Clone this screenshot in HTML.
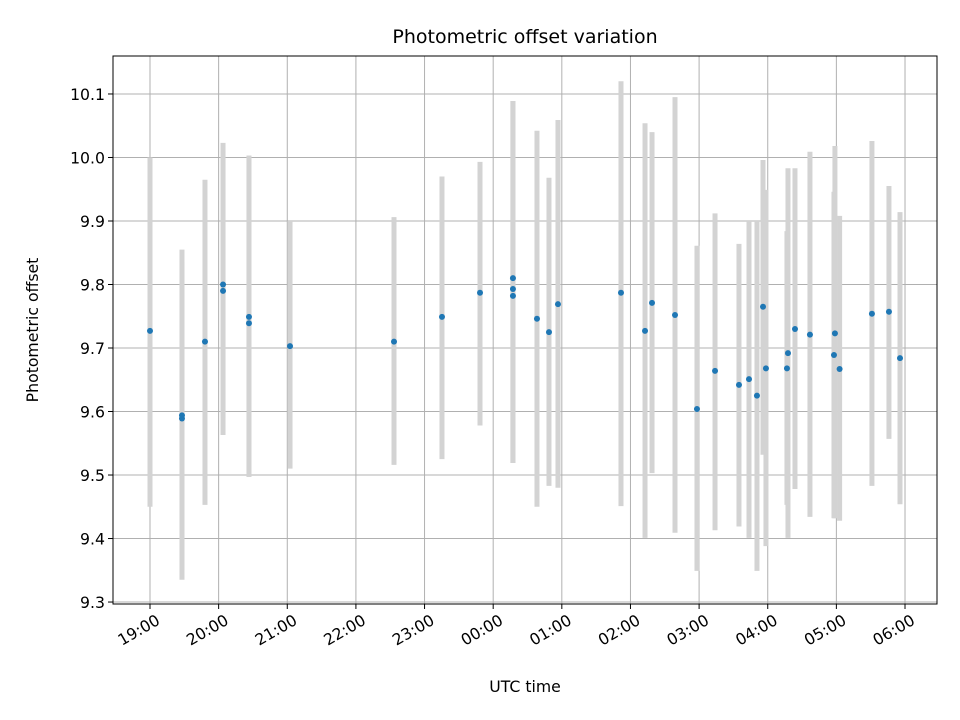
<!DOCTYPE html>
<html><head><meta charset="utf-8"><style>
body{margin:0;background:#fff;}
svg{display:block;font-family:"DejaVu Sans","Liberation Sans",sans-serif;}
</style></head><body>
<svg id="chart" width="960" height="720">
<text x="525" y="43" text-anchor="middle" font-size="19">Photometric offset variation</text>
<text x="525" y="692" text-anchor="middle" font-size="15.7">UTC time</text>
<text transform="translate(38,330) rotate(-90)" text-anchor="middle" font-size="15.7">Photometric offset</text>
<g id="grid"></g><g id="bars"></g><g id="pts"></g><g id="axes"></g>
</svg>
<script>
// hours after 19:00 UTC
const times=[0.0,0.466,0.466,0.801,1.064,1.064,1.442,1.442,2.040,3.555,4.254,4.808,5.288,5.288,5.288,5.638,5.813,5.944,6.862,7.212,7.314,7.649,7.969,8.232,8.581,8.727,8.843,8.931,8.974,9.280,9.295,9.397,9.615,9.979,9.965,10.047,10.518,10.766,10.927];
const values=[9.727,9.594,9.589,9.710,9.800,9.790,9.749,9.739,9.703,9.710,9.749,9.787,9.810,9.793,9.782,9.746,9.725,9.769,9.787,9.727,9.771,9.752,9.604,9.664,9.642,9.651,9.625,9.765,9.668,9.668,9.692,9.730,9.721,9.723,9.689,9.667,9.754,9.757,9.684];
const upper=[10.0,9.855,9.835,9.965,10.023,10.01,10.003,10.003,9.9,9.906,9.97,9.993,10.089,10.089,10.089,10.042,9.968,10.059,10.12,10.054,10.04,10.095,9.861,9.912,9.864,9.9,9.9,9.996,9.949,9.884,9.983,9.983,10.009,10.018,9.946,9.908,10.026,9.955,9.914];
const lower=[9.45,9.335,9.35,9.453,9.563,9.59,9.497,9.497,9.51,9.516,9.525,9.578,9.519,9.519,9.519,9.45,9.483,9.48,9.451,9.401,9.503,9.409,9.349,9.413,9.419,9.401,9.349,9.532,9.388,9.453,9.401,9.478,9.434,9.432,9.432,9.428,9.483,9.557,9.454];
const xTickLabels=["19:00","20:00","21:00","22:00","23:00","00:00","01:00","02:00","03:00","04:00","05:00","06:00"];
const yTickLabels=["9.3","9.4","9.5","9.6","9.7","9.8","9.9","10.0","10.1"];

const L=113,R=937,T=56,B=604,XMIN=-0.539,XMAX=11.466,YMIN=9.2969,YMAX=10.1598;
const xs=h=>L+(h-XMIN)/(XMAX-XMIN)*(R-L);
const ys=v=>B-(v-YMIN)/(YMAX-YMIN)*(B-T);
const NS="http://www.w3.org/2000/svg";
function mk(tag,attrs,parent){const e=document.createElementNS(NS,tag);for(const k in attrs)e.setAttribute(k,attrs[k]);document.getElementById(parent).appendChild(e);return e;}

xTickLabels.forEach((lab,i)=>{
  const x=xs(i);
  const g=mk('line',{x1:x,x2:x,y1:T,y2:B,stroke:'#b0b0b0','stroke-width':1},'grid');
  
  
  const t=mk('line',{x1:x,x2:x,y1:B,y2:B+5,stroke:'#000','stroke-width':1},'axes');
  
  
  const ax=x+5, ay=B+9;
  const tx=mk('text',{x:ax,y:ay,'font-size':15.7,'text-anchor':'end','dominant-baseline':'hanging',transform:`rotate(-30 ${ax} ${ay})`},'axes');
  tx.textContent=lab;
  
  
});
yTickLabels.forEach(lab=>{
  const y=ys(parseFloat(lab));
  const g=mk('line',{x1:L,x2:R,y1:y,y2:y,stroke:'#b0b0b0','stroke-width':1},'grid');
  
  
  const t=mk('line',{x1:L-5,x2:L,y1:y,y2:y,stroke:'#000','stroke-width':1},'axes');
  
  
  const tx=mk('text',{x:L-8,y:y+6,'font-size':15.7,'text-anchor':'end'},'axes');
  tx.textContent=lab;
  
  
});
const frame=mk('rect',{x:L,y:T,width:R-L,height:B-T,fill:'none',stroke:'#000','stroke-width':1},'axes');



times.forEach((h,i)=>{
  const x=xs(h);
  const b=mk('line',{x1:x,x2:x,y1:ys(upper[i]),y2:ys(lower[i]),stroke:'#d3d3d3','stroke-width':5},'bars');
  
  
  const p=mk('circle',{cx:x,cy:ys(values[i]),r:3,fill:'#1f77b4'},'pts');
  
  
});
</script>
</body></html>
